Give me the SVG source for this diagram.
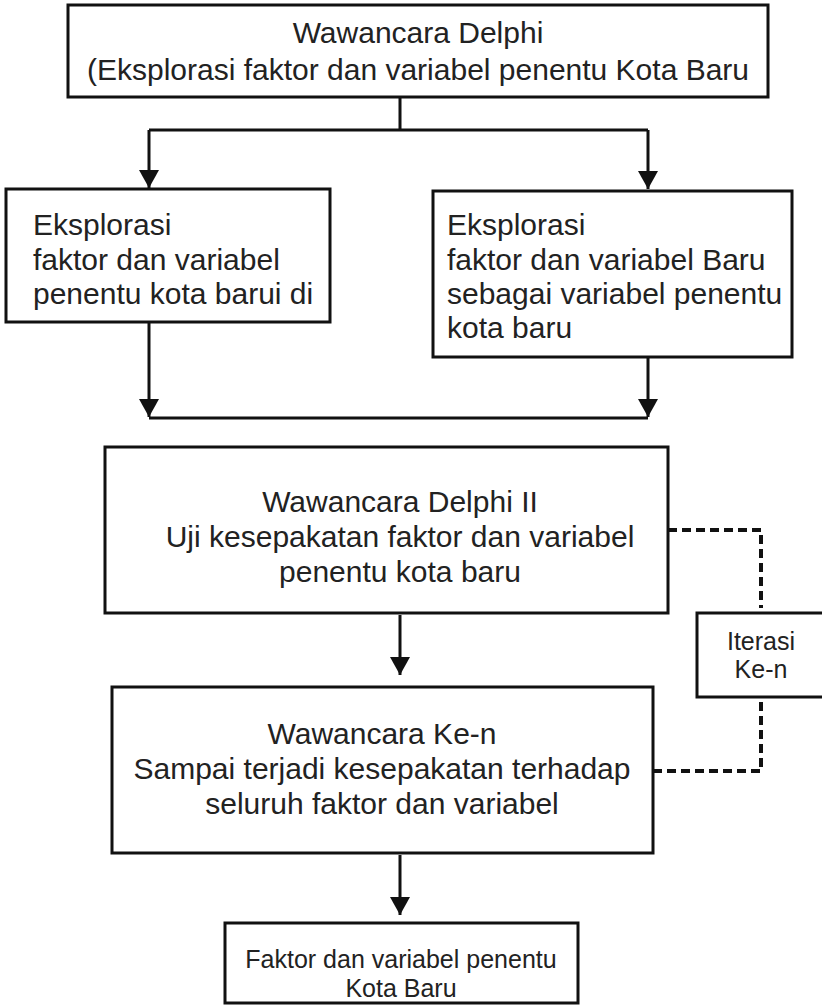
<svg xmlns="http://www.w3.org/2000/svg" width="822" height="1006" viewBox="0 0 822 1006">
<style>
.box{fill:#fff;stroke:#111;stroke-width:3}
.t{font-family:"Liberation Sans",Arial,sans-serif;font-size:30px;fill:#222}
.s{font-size:25px}
.c{text-anchor:middle}
.ln{fill:none;stroke:#111;stroke-width:3}
.dash{fill:none;stroke:#111;stroke-width:4;stroke-dasharray:9 5}
</style>
<defs>
<marker id="ah" viewBox="0 0 18 20" refX="18" refY="10" markerWidth="18" markerHeight="20" markerUnits="userSpaceOnUse" orient="auto">
<path d="M0,0 L18,10 L0,20 Z" fill="#111"/>
</marker>
</defs>
<rect width="822" height="1006" fill="#fff"/>
<g id="connectors">
<path class="ln" d="M400,97 V130 M149,130 H648 M149,418 H648"/>
<path class="ln" d="M149,130 V188" marker-end="url(#ah)"/>
<path class="ln" d="M648,130 V189" marker-end="url(#ah)"/>
<path class="ln" d="M149,322 V417" marker-end="url(#ah)"/>
<path class="ln" d="M648,357 V417" marker-end="url(#ah)"/>
<path class="ln" d="M400,615 V675" marker-end="url(#ah)"/>
<path class="ln" d="M400,855 V915" marker-end="url(#ah)"/>
<path class="dash" d="M668,530 H761 V608"/>
<path class="dash" d="M761,702 V771 H653"/>
</g>
<g id="node-delphi1">
<rect class="box" x="68" y="5" width="700" height="92"/>
<text class="t c" x="418" y="43">Wawancara Delphi</text>
<text class="t c" x="418" y="80">(Eksplorasi faktor dan variabel penentu Kota Baru</text>
</g>
<g id="node-eksplorasi-left">
<rect class="box" x="6" y="189" width="324" height="133"/>
<text class="t" x="33" y="235">Eksplorasi</text>
<text class="t" x="33" y="270">faktor dan variabel</text>
<text class="t" x="33" y="304">penentu kota barui di</text>
</g>
<g id="node-eksplorasi-right">
<rect class="box" x="433" y="191" width="359" height="166"/>
<text class="t" x="447" y="235">Eksplorasi</text>
<text class="t" x="447" y="270">faktor dan variabel Baru</text>
<text class="t" x="447" y="304">sebagai variabel penentu</text>
<text class="t" x="447" y="338">kota baru</text>
</g>
<g id="node-delphi2">
<rect class="box" x="105" y="447" width="563" height="166"/>
<text class="t c" x="400" y="512">Wawancara Delphi II</text>
<text class="t c" x="400" y="547">Uji kesepakatan faktor dan variabel</text>
<text class="t c" x="400" y="582">penentu kota baru</text>
</g>
<g id="node-iterasi">
<rect class="box" x="697" y="613" width="127" height="84"/>
<text class="t s c" x="761" y="650">Iterasi</text>
<text class="t s c" x="761" y="678">Ke-n</text>
</g>
<g id="node-ken">
<rect class="box" x="112" y="687" width="541" height="166"/>
<text class="t c" x="382" y="744">Wawancara Ke-n</text>
<text class="t c" x="382" y="779">Sampai terjadi kesepakatan terhadap</text>
<text class="t c" x="382" y="814">seluruh faktor dan variabel</text>
</g>
<g id="node-hasil">
<rect class="box" x="225" y="923" width="353" height="80"/>
<text class="t s c" x="401" y="968">Faktor dan variabel penentu</text>
<text class="t s c" x="401" y="997">Kota Baru</text>
</g>
</svg>
